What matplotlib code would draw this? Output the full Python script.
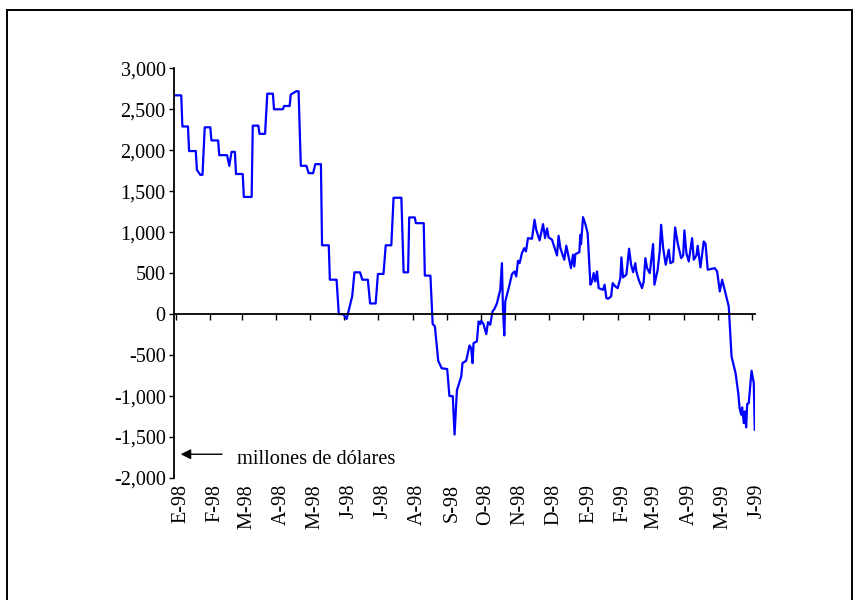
import numpy as np
import pandas as pd
import matplotlib
matplotlib.use('Agg')
import matplotlib.pyplot as plt
import matplotlib.transforms as mtransforms
from matplotlib.patches import Rectangle

plt.rcParams['font.family'] = ['Liberation Serif', 'DejaVu Serif']

## days since 1998-01-01 and value (millones de dólares)
days = [0, 5, 6, 11, 12, 18, 19, 22, 24, 26, 31, 32, 38, 39, 46, 48, 50, 53, 54, 60,
        61, 68, 69, 74, 75, 80, 82, 87, 88, 96, 97, 102, 103, 108, 110, 112, 117, 119, 123, 125,
        130, 131, 137, 138, 144, 146, 150, 153, 158, 160, 165, 167, 172, 174, 179, 181, 186, 188, 193, 195,
        202, 204, 208, 209, 214, 215, 222, 223, 228, 230, 232, 235, 238, 243, 245, 248, 249.6, 251.7,
        255.6, 256.7, 260, 263, 264.5, 265.7, 266.6, 269.6, 271.1, 272.6, 273.5, 275.5, 278, 279.5,
        281.5, 283.6, 285.4, 287.6, 290.5, 292, 292.9, 294.1, 295, 298.8, 301, 303.3, 304.8, 306.4,
        307.8, 309.9, 312, 313.5, 315.3, 318.9, 321.2, 322.7, 325.7, 328.8, 330.6, 332.4, 333.8, 336.8,
        341.3, 342.7, 344.3, 347.8, 349.6, 353.8, 355.6, 356.8, 357.7, 361.3, 362.2, 362.8, 364.6, 366.7,
        368.7, 371.2, 372.7, 374.1, 375.6, 377.1, 378.6, 382.5, 383.9, 385.5, 387, 389.7, 391.1, 393.5,
        395.6, 398, 398.9, 400.4, 403.4, 405.8, 407.6, 409.4, 411.4, 412.3, 414.4, 417.4, 418.9, 420.4,
        421.9, 424.3, 427.3, 428.5, 431.4, 433.2, 434.5, 436.3, 438.6, 441.3, 442.8, 445.2, 447, 449.3,
        452.4, 454.2, 455.3, 457.1, 459.2, 462.2, 463.7, 466.1, 467.2, 469.7, 472.6, 474.2, 476.2, 482.5,
        484.6, 487, 489.1, 492.1, 495, 497.5, 501.1, 503.5, 504.7, 506.1, 507, 508.5, 509.4, 510.6,
        511.5, 512.9, 515.4, 517.4, 518.3]
valores = [2670, 2670, 2290, 2290, 1990, 1990, 1760, 1700, 1700, 2280, 2280, 2120, 2120, 1940, 1940, 1810, 1980, 1980, 1710, 1710,
           1430, 1430, 2300, 2300, 2200, 2200, 2690, 2690, 2500, 2500, 2540, 2540, 2680, 2720, 2720, 1810, 1810, 1720, 1720, 1830,
           1830, 840, 840, 420, 420, 0, 0, -60, 220, 510, 510, 420, 420, 130, 130, 490, 490, 840, 840, 1420,
           1420, 510, 510, 1180, 1180, 1110, 1110, 470, 470, -120, -150, -570, -660, -670, -1000, -1000, -1470, -930,
           -760, -598, -569, -382, -415, -598, -354, -333, -89, -122, -81, -122, -244, -98,
           -130, 33, 66, 134, 298, 622, 73, -260, 155, 359, 488, 521, 460, 651,
           622, 744, 805, 765, 927, 920, 1152, 1030, 900, 1098, 930, 1045, 936, 908,
           716, 956, 805, 664, 834, 561, 725, 582, 732, 756, 968, 854, 1183, 1098,
           988, 359, 399, 500, 399, 521, 317, 297, 359, 195, 188, 216, 378, 338,
           317, 439, 692, 448, 481, 798, 603, 512, 622, 521, 420, 317, 399, 683,
           561, 500, 854, 359, 542, 765, 1090, 805, 603, 786, 622, 640, 1058, 866,
           683, 716, 1021, 744, 643, 927, 664, 716, 834, 570, 887, 860, 542, 561,
           521, 277, 420, 257, 94, -516, -720, -964, -1147, -1227, -1138, -1330, -1187, -1382,
           -1097, -1086, -691, -842, -1410]

meses = ['E-98', 'F-98', 'M-98', 'A-98', 'M-98', 'J-98', 'J-98', 'A-98', 'S-98', 'O-98',
         'N-98', 'D-98', 'E-99', 'F-99', 'M-99', 'A-99', 'M-99', 'J-99']
y_ticks = [3000, 2500, 2000, 1500, 1000, 500, 0, -500, -1000, -1500, -2000]

inicio = pd.Timestamp('1998-01-01')
pos_meses = (pd.date_range('1998-01-01', periods=len(meses), freq='MS') - inicio).days.values

fig = plt.figure(figsize=(8.54, 6.0), dpi=100)
ax = fig.add_axes([174 / 854, 1 - 478 / 600, 581 / 854, (478 - 68.3) / 600])

ax.plot(days, valores, color='#0000ff', lw=1.6)

ax.set_xlim(-1.5, 518.5)
ax.set_ylim(-2000, 3000)

for s in ['top', 'right']:
	ax.spines[s].set_visible(False)
ax.spines['bottom'].set_position(('data', 0))
ax.spines['bottom'].set_linewidth(1.3)
ax.spines['left'].set_linewidth(1.3)

ax.set_xticks(pos_meses)
ax.tick_params(axis='x', direction='out', length=4, width=1, labelbottom=False)
ax.set_yticks(y_ticks)
ax.set_yticklabels(['{:,}'.format(v) for v in y_ticks])
ax.tick_params(axis='y', direction='out', length=3.5, width=1, pad=2.5, labelsize=14.5)

# tick rojo en -2000
for t in ax.yaxis.get_major_ticks():
	if t.get_loc() == -2000:
		t.tick1line.set_color('red')

# etiquetas de meses abajo
trans = mtransforms.blended_transform_factory(ax.transData, ax.transAxes)
trans = mtransforms.offset_copy(trans, fig=fig, x=5, y=-6, units='dots')
for p, m in zip(pos_meses, meses):
	ax.text(p, 0, m, transform=trans, rotation=90, ha='center', va='top', fontsize=14.5)

ax.annotate('', xy=(2.0, -1710), xytext=(44, -1710),
            arrowprops=dict(arrowstyle='-|>', color='black', lw=1, mutation_scale=15))
ax.text(54.6, -1830, 'millones de dólares', fontsize=14.7, va='baseline', ha='left')

fig.patches.append(Rectangle((7 / 854, -0.05), (852 - 7) / 854, 1 - 10 / 600 + 0.05,
                             transform=fig.transFigure, fill=False, lw=1.4, edgecolor='black'))

fig.savefig('out.png', dpi=100)
